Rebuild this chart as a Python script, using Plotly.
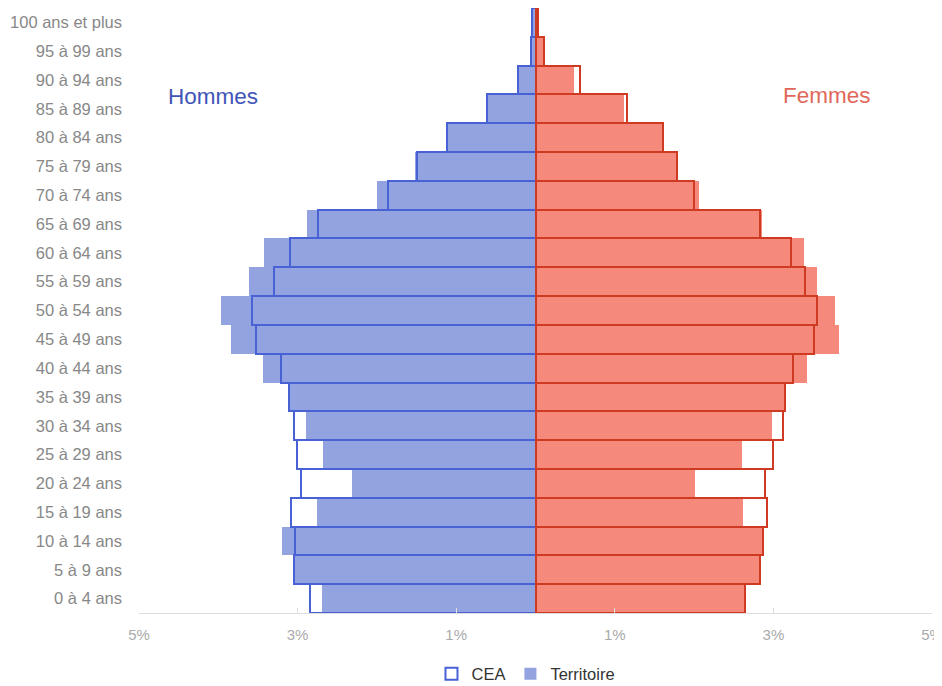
import plotly.graph_objects as go

ages = ["0 à 4 ans", "5 à 9 ans", "10 à 14 ans", "15 à 19 ans", "20 à 24 ans",
        "25 à 29 ans", "30 à 34 ans", "35 à 39 ans", "40 à 44 ans", "45 à 49 ans",
        "50 à 54 ans", "55 à 59 ans", "60 à 64 ans", "65 à 69 ans", "70 à 74 ans",
        "75 à 79 ans", "80 à 84 ans", "85 à 89 ans", "90 à 94 ans", "95 à 99 ans",
        "100 ans et plus"]

# Percent of population (men shown on the left)
hommes_territoire = [2.69, 3.04, 3.20, 2.76, 2.31, 2.68, 2.89, 3.09, 3.44, 3.84,
                     3.97, 3.61, 3.42, 2.88, 2.00, 1.52, 1.11, 0.61, 0.22, 0.06, 0.03]
hommes_cea = [2.84, 3.05, 3.03, 3.08, 2.96, 3.01, 3.05, 3.11, 3.21, 3.53,
              3.58, 3.30, 3.10, 2.74, 1.86, 1.50, 1.11, 0.61, 0.22, 0.06, 0.05]
femmes_territoire = [2.64, 2.82, 2.86, 2.62, 2.01, 2.60, 2.98, 3.13, 3.42, 3.83,
                     3.78, 3.55, 3.39, 2.86, 2.06, 1.79, 1.60, 1.12, 0.48, 0.09, 0.03]
femmes_cea = [2.64, 2.83, 2.87, 2.92, 2.89, 2.99, 3.12, 3.15, 3.25, 3.51,
              3.55, 3.40, 3.22, 2.83, 2.00, 1.79, 1.61, 1.15, 0.56, 0.11, 0.03]

tick_vals = [-5, -3, -1, 1, 3, 5]
tick_text = ["5%", "3%", "1%", "1%", "3%", "5%"]

BLUE_FILL = "#93a3e0"
BLUE_LINE = "#4862d6"
RED_FILL = "#f58a7c"
RED_LINE = "#cf3a22"

fig = go.Figure()

fig.add_trace(go.Bar(
    y=ages, x=[-v for v in hommes_territoire], orientation="h",
    name="Territoire", marker=dict(color=BLUE_FILL, line=dict(width=0)),
    legendrank=2,
))
fig.add_trace(go.Bar(
    y=ages, x=femmes_territoire, orientation="h",
    name="Territoire", showlegend=False,
    marker=dict(color=RED_FILL, line=dict(width=0)),
))
fig.add_trace(go.Bar(
    y=ages, x=[-v for v in hommes_cea], orientation="h",
    name="CEA", marker=dict(color="rgba(255,255,255,0)", line=dict(color=BLUE_LINE, width=2)),
    legendrank=1,
))
fig.add_trace(go.Bar(
    y=ages, x=femmes_cea, orientation="h",
    name="CEA", showlegend=False,
    marker=dict(color="rgba(255,255,255,0)", line=dict(color=RED_LINE, width=2)),
))

# The page body has an 8px margin, so the figure is sized to fit the window.
fig.update_layout(
    width=934, height=678,
    margin=dict(l=131, r=10, t=0, b=73, autoexpand=False),
    barmode="overlay", bargap=0,
    paper_bgcolor="white", plot_bgcolor="white",
    font=dict(family="Liberation Sans, Arial, sans-serif", color="#888888", size=15),
    showlegend=True,
    legend=dict(orientation="h", x=0.488, xanchor="center", y=-0.072, yanchor="top",
                font=dict(size=16.5, color="#333333"), traceorder="normal",
                itemwidth=30),
    xaxis=dict(range=[-5, 5], tickvals=tick_vals, ticktext=tick_text,
               showgrid=False, zeroline=False, showline=True, linecolor="#dddddd",
               linewidth=1, ticks="inside", ticklen=5, tickcolor="#dddddd",
               tickfont=dict(size=15, color="#aaaaaa"), ticklabelstandoff=8,
               ticklabeloverflow="allow",
               automargin=False, fixedrange=True),
    yaxis=dict(categoryorder="array", categoryarray=ages, range=[-0.5, 20.5],
               showgrid=False, zeroline=False, showline=False, ticks="",
               tickfont=dict(size=16.5, color="#888888"), ticklabelstandoff=16,
               automargin=False),
    annotations=[
        dict(text="Hommes", xref="paper", yref="paper", x=0.0935, y=0.853,
             xanchor="center", yanchor="middle",
             showarrow=False, font=dict(size=22.5, color="#3f55b8")),
        dict(text="Femmes", xref="paper", yref="paper", x=0.867, y=0.855,
             xanchor="center", yanchor="middle",
             showarrow=False, font=dict(size=22.5, color="#e0685a")),
    ],
)

fig.write_html("out.html")
